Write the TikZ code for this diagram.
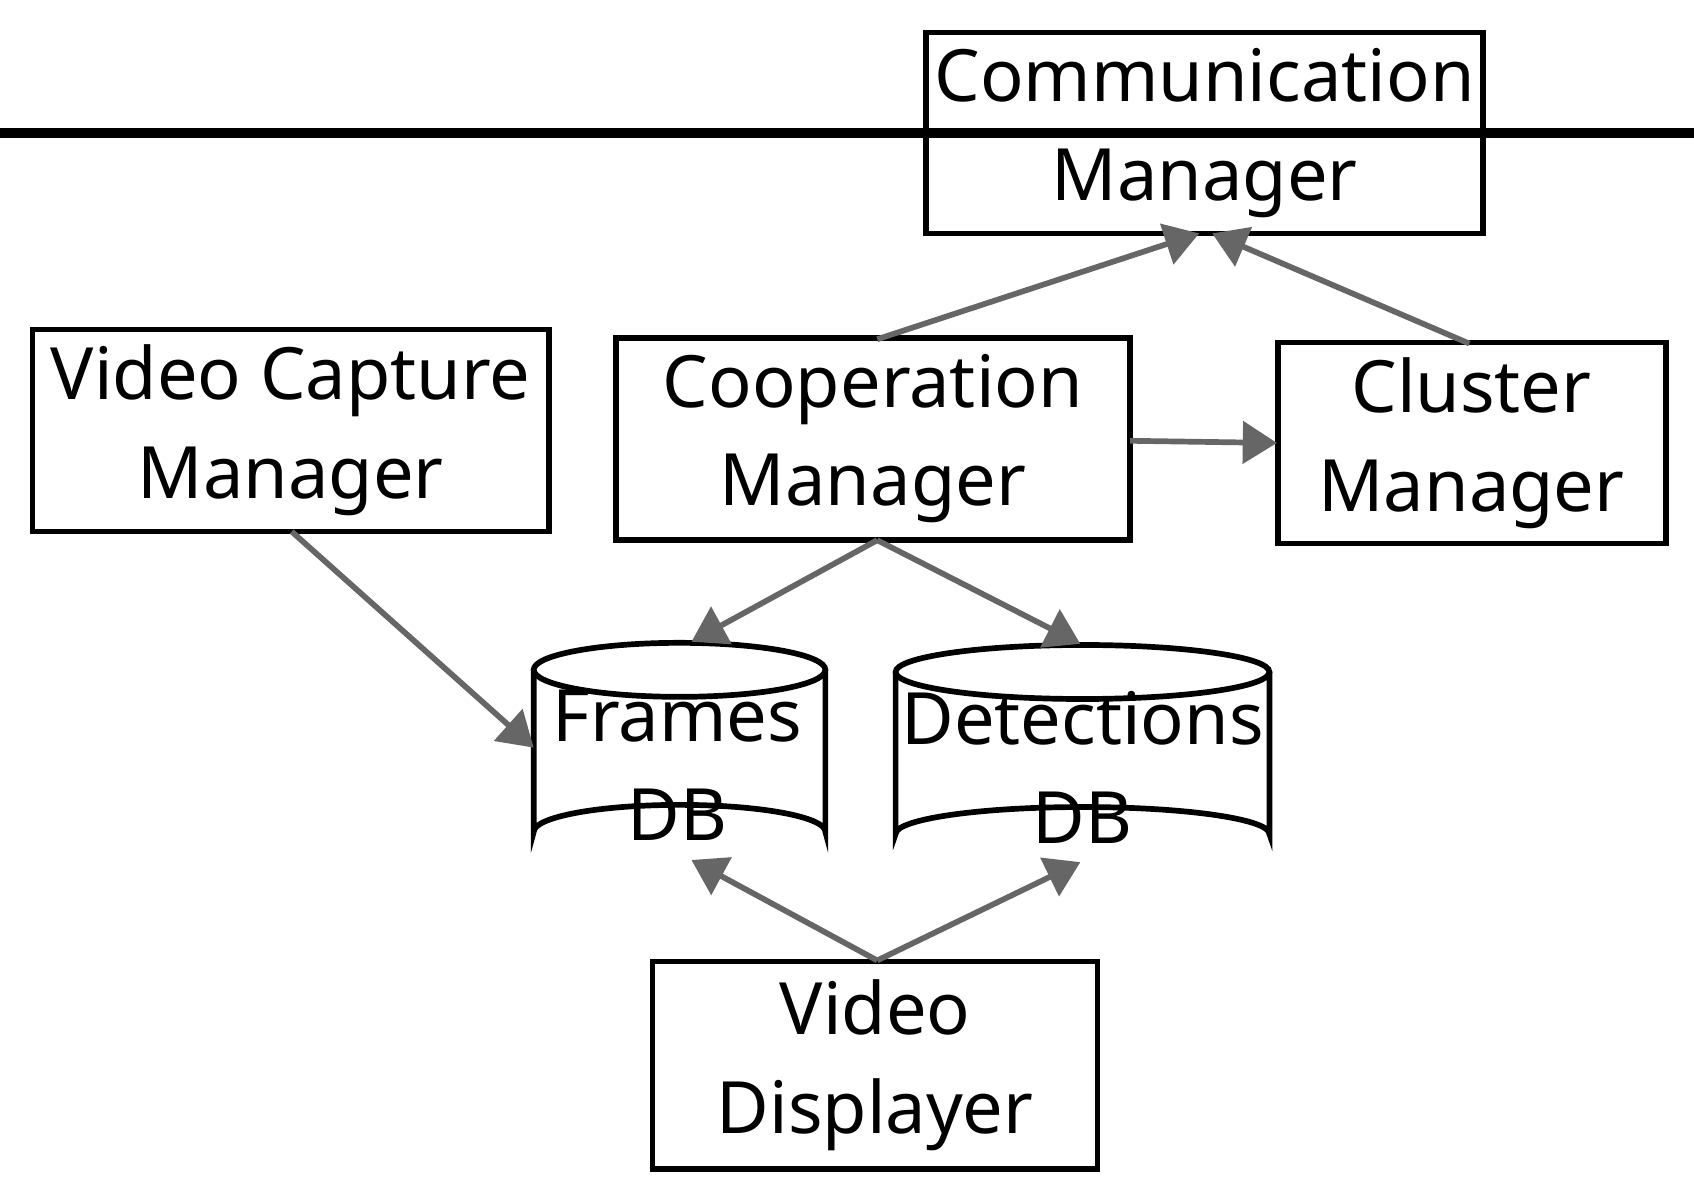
\documentclass[tikz,border=0pt]{standalone}
\usepackage{fontspec}
\setmainfont{Noto Sans}
\usetikzlibrary{arrows.meta}
\begin{document}
\begin{tikzpicture}[x=0.01cm,y=-0.01cm,
  box/.style={draw=black,line width=1.5pt,align=center,font=\fontsize{19}{26}\selectfont,inner sep=0pt},
  lbl/.style={align=center,font=\fontsize{19}{26}\selectfont},
  arr/.style={draw=black!60,line width=1.5pt,-{Triangle[length=9pt,width=11pt]}}]
\useasboundingbox (0,0) rectangle (1568,1111);
\node[box,minimum width=516\pgflinewidth,text width=4.8cm] (comm) at (1115,123) {};
\draw[line width=1.5pt] (857,30) rectangle (1373,216);
\node[lbl] at (1115,123) {Communication\\Manager};
\draw[line width=1.5pt] (30,305) rectangle (508,492);
\node[lbl] (vcm) at (269,398) {Video Capture\\Manager};
\draw[line width=1.5pt] (570,313) rectangle (1046,500);
\node[lbl] (coop) at (808,406) {Cooperation\\Manager};
\draw[line width=1.5pt] (1183,317) rectangle (1542,503);
\node[lbl] (clus) at (1362,410) {Cluster\\Manager};
\draw[line width=1.5pt] (604,890) rectangle (1016,1082);
\node[lbl] (disp) at (810,986) {Video\\Displayer};
% cylinders
\draw[line width=1.5pt] (494,620) -- (494,770) arc[start angle=180,end angle=360,x radius=135,y radius=25] -- (764,620);
\draw[line width=1.5pt] (629,620) ellipse[x radius=135,y radius=25];
\node[lbl] (fdb) at (627,708) {Frames\\DB};
\draw[line width=1.5pt] (829,622) -- (829,772) arc[start angle=180,end angle=360,x radius=173,y radius=25] -- (1175,622);
\draw[line width=1.5pt] (1002,622) ellipse[x radius=173,y radius=25];
\node[lbl] (ddb) at (1002,710) {Detections\\DB};
% named endpoints
\coordinate (commL) at (1110,216);
\coordinate (commR) at (1122,216);
\coordinate (coopT) at (812,314);
\coordinate (coopR) at (1046,408);
\coordinate (coopB) at (812,500);
\coordinate (clusT) at (1360,318);
\coordinate (clusL) at (1182,410);
\coordinate (vcmB) at (270,492);
\coordinate (fdbL) at (494,692);
\coordinate (fdbT) at (640,594);
\coordinate (ddbT) at (1000,596);
\coordinate (fdbB) at (640,796);
\coordinate (ddbB) at (1000,798);
\coordinate (dispT) at (812,889);
\draw[arr] (coopT) -- (commL);
\draw[arr] (clusT) -- (commR);
\draw[arr] (coopR) -- (clusL);
\draw[arr] (coopB) -- (fdbT);
\draw[arr] (coopB) -- (ddbT);
\draw[arr] (vcmB) -- (fdbL);
\draw[arr] (dispT) -- (fdbB);
\draw[arr] (dispT) -- (ddbB);
\end{tikzpicture}
\end{document}
